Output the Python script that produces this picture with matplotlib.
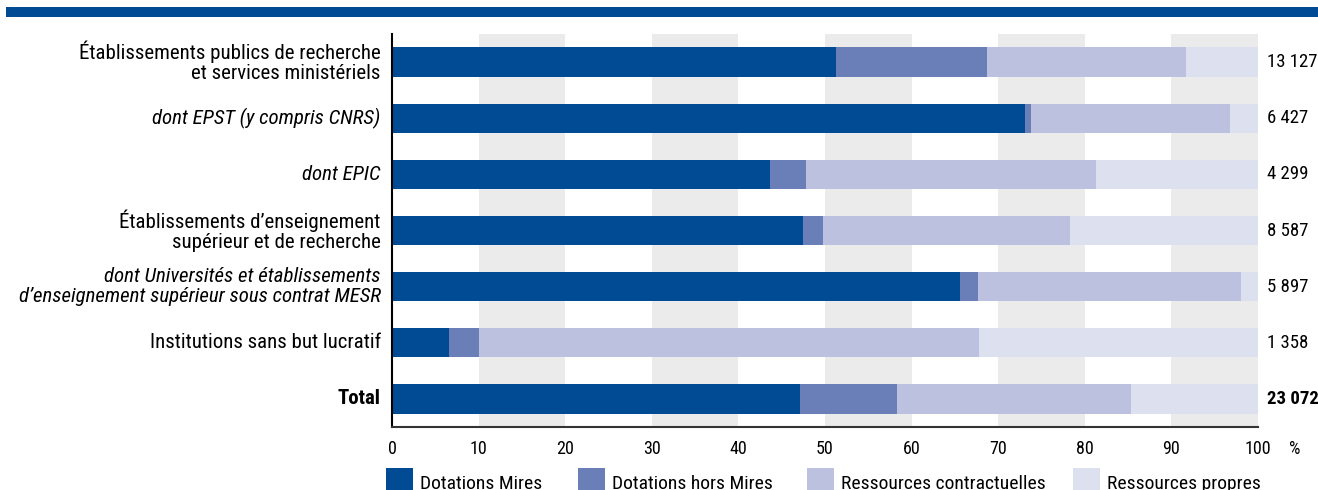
import matplotlib
matplotlib.use("Agg")
import matplotlib.pyplot as plt
import matplotlib.patches as mpatches
import numpy as np

plt.rcParams['font.family'] = ['Roboto Condensed', 'DejaVu Sans']

categories = [
    "Établissements publics de recherche\net services ministériels",
    "dont EPST (y compris CNRS)",
    "dont EPIC",
    "Établissements d’enseignement\nsupérieur et de recherche",
    "dont Universités et établissements\nd’enseignement supérieur sous contrat MESR",
    "Institutions sans but lucratif",
    "Total",
]
cat_style = ["normal", "italic", "italic", "normal", "italic", "normal", "bold"]
totals = ["13 127", "6 427", "4 299", "8 587", "5 897", "1 358", "23 072"]

series = ["Dotations Mires", "Dotations hors Mires",
          "Ressources contractuelles", "Ressources propres"]
dot_mires = [51.3, 73.1, 43.6, 47.5, 65.6, 6.6, 47.1]
dot_hors = [17.4, 0.7, 4.2, 2.3, 2.1, 3.4, 11.2]
contract = [23.0, 23.0, 33.5, 28.5, 30.3, 57.8, 27.0]
propres = [100 - a - b - c for a, b, c in zip(dot_mires, dot_hors, contract)]
colors = ["#004b93", "#6a7fb8", "#bcc1e0", "#dde0ef"]

W, H = 1318, 490
fig = plt.figure(figsize=(W / 100, H / 100), dpi=100)
ax = fig.add_axes([392 / W, 1 - 427 / H, (1258 - 392) / W, (427 - 34) / H])

# bandeau bleu en haut
fig.add_artist(mpatches.Rectangle((6 / W, 1 - 17 / H), 1 - 6 / W, 10 / H,
                                  transform=fig.transFigure, color="#004b93",
                                  lw=0))

# fonds gris alternés
for x0 in range(10, 100, 20):
    ax.axvspan(x0, x0 + 10, color="#ebebeb", lw=0, zorder=0)

y = np.arange(len(categories))
left = np.zeros(len(categories))
for vals, col, lab in zip([dot_mires, dot_hors, contract, propres], colors, series):
    ax.barh(y, vals, left=left, height=0.52, color=col, label=lab, zorder=2)
    left += np.array(vals)

ax.set_xlim(0, 100)
ax.set_ylim(len(categories) - 0.5, -0.5)
ax.set_yticks([])
ax.set_xticks(range(0, 101, 10))
ax.tick_params(axis="x", length=0, labelsize=13, pad=9)
for s in ["top", "right"]:
    ax.spines[s].set_visible(False)
ax.spines["left"].set_linewidth(1.5)
ax.spines["bottom"].set_linewidth(1.5)
ax.spines["bottom"].set_color("#333333")
ax.annotate("%", xy=(1.0, 0), xycoords="axes fraction", xytext=(22, -16),
            textcoords="offset points", fontsize=13, ha="left", va="center")

# libellés des lignes
for yi, lab, st in zip(y, categories, cat_style):
    kw = dict(fontsize=15, ha="right", va="center", linespacing=1.08)
    if st == "italic":
        kw["fontstyle"] = "italic"
    if st == "bold":
        kw["fontweight"] = "bold"
    ax.text(-1.3, yi, lab, **kw)

# totaux à droite des barres
for yi, t in zip(y, totals):
    ax.text(1.0105, yi, t, fontsize=13.5, ha="left", va="center",
            transform=ax.get_yaxis_transform(),
            fontweight="bold" if t == totals[-1] else "normal")

leg_x = [386, 578, 807, 1073]
for hx, c, lab in zip(leg_x, colors, series):
    fig.add_artist(mpatches.Rectangle((hx / W, 0), 27 / W, 22 / H,
                                      transform=fig.transFigure, color=c, lw=0))
    fig.text((hx + 34) / W, 1 - 484 / H, lab, fontsize=14, va="center")

fig.savefig("out.png", dpi=100)
